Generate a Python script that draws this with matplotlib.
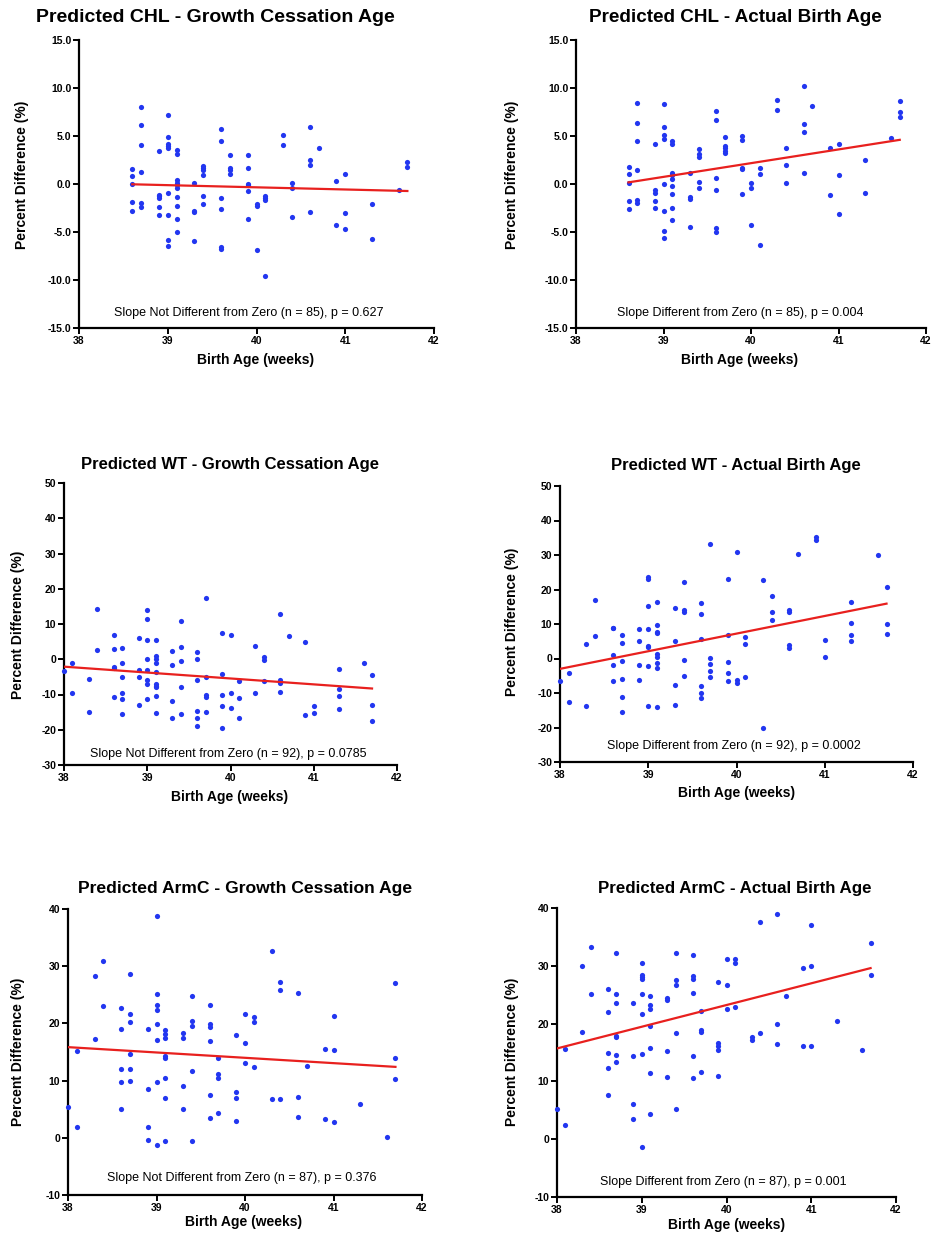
import numpy as np
import matplotlib
matplotlib.use("Agg")
import matplotlib.pyplot as plt
from matplotlib.ticker import FormatStrFormatter

plt.rcParams['font.family'] = ['Liberation Sans', 'DejaVu Sans']
plt.rcParams['axes.unicode_minus'] = False

# ---- data: birth-age columns and the values stacked in each ----
chl_gc_weeks = [38.6, 38.7, 38.9, 39.0, 39.1, 39.3, 39.4, 39.6, 39.7, 39.9, 40.0,
                40.1, 40.3, 40.4, 40.6, 40.7, 40.9, 41.0, 41.3, 41.6, 41.7]
chl_gc_vals = [[1.6, 0.8, 0.0, -1.9, -2.8], [8.0, 6.1, 4.1, 1.2, -2.0, -2.4],
               [3.4, -1.1, -1.3, -1.5, -2.4, -3.2],
               [7.2, 4.9, 4.2, 4.0, 3.8, -0.9, -3.2, -5.8, -6.5],
               [3.5, 3.1, 0.4, 0.1, -0.1, -0.4, -1.4, -2.3, -3.6, -5.0],
               [0.1, -2.8, -2.9, -5.9], [1.9, 1.7, 1.5, 0.9, -1.2, -2.1],
               [5.7, 4.5, -1.5, -2.6, -6.6, -6.8], [3.0, 1.7, 1.5, 1.0],
               [3.0, 1.7, 0.0, -0.1, -0.7, -3.6], [-2.1, -2.3, -6.9],
               [-1.3, -1.5, -1.7, -9.6], [5.1, 4.1], [0.1, -0.4, -3.4],
               [5.9, 2.5, 2.0, -2.9], [3.8], [0.3, -4.3], [1.0, -3.0, -4.7],
               [-2.1, -5.7], [-0.6], [2.3, 1.8]]
chl_gc_fit = [(38.6, 41.7), (-0.03, -0.73)]

chl_ab_weeks = chl_gc_weeks
chl_ab_vals = [[1.8, 1.0, 0.1, -1.8, -2.6], [8.4, 6.4, 4.5, 1.5, -1.7, -2.0],
               [4.2, -0.6, -0.9, -1.8, -2.5],
               [8.3, 5.9, 5.1, 4.7, 0.0, -2.8, -4.9, -5.6],
               [4.5, 4.2, 1.1, 0.9, 0.5, -0.2, -1.0, -2.5, -3.8],
               [1.1, -1.4, -1.6, -4.5], [3.6, 3.1, 2.8, 0.2, -0.4],
               [7.6, 6.7, 0.6, -0.6, -4.6, -5.0], [4.9, 4.0, 3.7, 3.4, 3.2],
               [5.0, 4.6, 1.7, 1.6, -1.0], [0.1, -0.4, -4.3], [1.7, 1.0, -6.4],
               [8.7, 7.7], [3.7, 2.0, 0.1], [10.2, 6.3, 5.4, 1.1], [8.1],
               [3.8, -1.1], [4.2, 0.9, -3.1], [2.5, -0.9], [4.8], [8.6, 7.5, 7.0]]
chl_ab_fit = [(38.6, 41.7), (0.17, 4.6)]

wt_weeks = [38.0, 38.1, 38.3, 38.4, 38.6, 38.7, 38.9, 39.0, 39.1, 39.3, 39.4, 39.6,
            39.7, 39.9, 40.0, 40.1, 40.3, 40.4, 40.6, 40.7, 40.9, 41.0, 41.3, 41.6, 41.7]
wt_gc_vals = [[-3.4], [-1.2, -9.7], [-5.7, -15.0], [14.3, 2.6],
              [6.9, 3.0, -2.3, -2.6, -10.7], [3.3, -1.1, -5.1, -9.6, -11.2, -15.4],
              [6.0, -3.1, -5.1, -13.0],
              [14.1, 11.5, 5.6, 0.1, -3.0, -5.8, -7.1, -11.3],
              [5.5, 1.0, 0.0, -1.2, -3.6, -7.1, -7.7, -8.0, -10.3, -15.2],
              [2.4, -1.5, -11.9, -16.7], [10.8, 3.4, -0.4, -7.8, -15.6],
              [2.0, 0.1, -5.9, -14.7, -16.6, -18.9], [17.4, -4.9, -10.2, -10.7, -14.9],
              [7.5, -4.3, -10.2, -13.4, -19.5], [7.0, -9.5, -13.7],
              [-6.1, -10.9, -16.8], [3.8, -9.6], [0.5, -0.1, -6.1],
              [12.9, -6.0, -6.6, -9.4], [6.7], [4.9, -15.8], [-13.2, -15.3],
              [-2.7, -8.4, -10.4, -14.0], [-1.0], [-4.4, -12.9, -17.4]]
wt_gc_fit = [(38.0, 41.7), (-2.1, -8.3)]

wt_ab_vals = [[-6.6], [-4.2, -12.6], [4.2, -13.9], [17.1, 6.5],
              [8.9, 8.7, 1.1, -2.0, -6.6], [6.9, 4.4, -0.7, -5.8, -11.2, -15.6],
              [8.6, 5.1, -1.9, -6.1],
              [23.5, 22.9, 15.3, 8.6, 3.5, 3.2, -2.2, -13.9],
              [16.3, 9.6, 7.6, 7.3, 1.4, 0.5, -1.3, -2.8, -14.2],
              [14.5, 5.0, -7.8, -13.4], [22.1, 14.1, 13.6, -0.5, -5.2],
              [16.1, 12.9, 5.7, -7.9, -9.9, -11.4], [33.1, 0.1, -1.6, -3.5, -5.4],
              [22.9, 6.9, -1.1, -4.3, -6.6], [30.8, -6.1, -7.0], [6.1, 4.2, -5.4],
              [22.8, -20.2], [18.1, 13.4, 11.2], [14.0, 13.6, 3.9, 2.9], [30.4],
              [35.3, 34.4], [5.5, 0.4], [16.3, 10.4, 6.7, 5.1], [29.9],
              [20.6, 9.9, 7.2]]
wt_ab_fit = [(38.0, 41.7), (-3.0, 15.9)]

armc_weeks = wt_weeks
armc_gc_vals = [[5.3], [15.2, 1.9], [28.2, 17.2], [30.9, 23.0],
                [22.7, 19.0, 12.1, 9.7, 5.1], [28.6, 21.6, 20.2, 14.7, 12.1, 10.0],
                [19.0, 8.5, 1.9, -0.4],
                [38.8, 25.2, 23.3, 22.4, 19.9, 17.1, 9.8, -1.3],
                [18.9, 18.1, 17.5, 14.3, 14.0, 10.5, 7.0, -0.5],
                [18.3, 17.5, 9.1, 5.0], [24.8, 20.5, 19.6, 11.7, -0.5],
                [23.2, 19.9, 19.3, 16.9, 7.5, 3.4], [13.9, 11.2, 10.5, 4.3],
                [18.0, 8.0, 6.9, 3.0], [21.7, 16.5, 13.1], [21.1, 20.2, 12.4],
                [32.6, 6.8], [27.2, 25.9, 6.8], [25.3, 7.1, 3.6], [12.6],
                [15.6, 3.3], [21.3, 15.4, 2.8], [5.9], [0.1], [27.1, 14.0, 10.3]]
armc_gc_fit = [(38.0, 41.7), (15.85, 12.4)]

armc_ab_vals = [[5.3], [15.6, 2.4], [29.9, 18.6], [33.3, 25.1],
                [25.9, 22.0, 14.9, 12.4, 7.7],
                [32.3, 25.2, 23.6, 17.9, 17.7, 14.5, 13.4], [23.6, 14.4, 6.1, 3.5],
                [30.4, 28.4, 28.0, 27.7, 25.2, 21.6, 14.7, -1.3],
                [24.7, 23.3, 22.6, 19.5, 15.7, 11.4, 4.3],
                [24.5, 24.1, 15.3, 10.8], [32.3, 27.5, 26.7, 18.3, 5.3],
                [31.8, 28.3, 27.7, 25.3, 14.4, 10.6], [22.2, 18.9, 18.5, 11.6],
                [27.2, 16.7, 16.1, 15.4, 10.9], [31.2, 26.6, 22.5], [31.1, 30.4, 22.9],
                [17.7, 17.2], [37.5, 18.4], [38.9, 20.0, 16.4], [24.7],
                [29.7, 16.1], [37.1, 29.9, 16.2], [20.4], [15.5], [33.9, 28.4]]
armc_ab_fit = [(38.0, 41.7), (15.7, 29.6)]

titles = ["Predicted CHL - Growth Cessation Age", "Predicted CHL - Actual Birth Age",
          "Predicted WT - Growth Cessation Age", "Predicted WT - Actual Birth Age",
          "Predicted ArmC - Growth Cessation Age", "Predicted ArmC - Actual Birth Age"]
notes = ["Slope Not Different from Zero (n = 85), p = 0.627",
         "Slope Different from Zero (n = 85), p = 0.004",
         "Slope Not Different from Zero (n = 92), p = 0.0785",
         "Slope Different from Zero (n = 92), p = 0.0002",
         "Slope Not Different from Zero (n = 87), p = 0.376",
         "Slope Different from Zero (n = 87), p = 0.001"]
x_ticks = [38, 39, 40, 41, 42]
y_ticks_chl = [-15, -10, -5, 0, 5, 10, 15]
y_ticks_wt = [-30, -20, -10, 0, 10, 20, 30, 40, 50]
y_ticks_armc = [-10, 0, 10, 20, 30, 40]

panels = [(chl_gc_weeks, chl_gc_vals, chl_gc_fit, y_ticks_chl),
          (chl_ab_weeks, chl_ab_vals, chl_ab_fit, y_ticks_chl),
          (wt_weeks, wt_gc_vals, wt_gc_fit, y_ticks_wt),
          (wt_weeks, wt_ab_vals, wt_ab_fit, y_ticks_wt),
          (armc_weeks, armc_gc_vals, armc_gc_fit, y_ticks_armc),
          (armc_weeks, armc_ab_vals, armc_ab_fit, y_ticks_armc)]

# ---- layout in pixels (left, right, top, bottom of axes) ----
W, H = 933, 1239
boxes = [(79, 434, 40, 328), (576, 926, 40, 328),
         (64, 397, 483, 765), (560, 913, 486, 762),
         (68, 422, 909, 1195), (557, 896, 908, 1197)]
title_pos = [(215, 18, 14), (735, 18, 13.6), (230, 465, 12), (736, 466, 12),
             (245, 888, 12.6), (735, 888, 12.2)]
note_pos = [(249, 313), (740, 313), (228, 754), (734, 746), (242, 1178), (723, 1182)]
ylab_pos = [(22, 175), (512, 175), (18, 625), (512, 622), (18, 1052), (512, 1052)]
xlab_pos = [(256, 360), (740, 360), (230, 797), (737, 793), (244, 1222), (727, 1225)]

fig = plt.figure(figsize=(W / 100, H / 100), dpi=100)

def fx(x):
    return x / W

def fy(y):
    return 1 - y / H

for i, (weeks, vals, fit, yt) in enumerate(panels):
    l, r, t, b = boxes[i]
    ax = fig.add_axes([fx(l), fy(b), fx(r - l), (b - t) / H])
    xs = np.concatenate([[w] * len(v) for w, v in zip(weeks, vals)])
    ys = np.concatenate(vals)
    ax.scatter(xs, ys, s=14, color='#2236f0', linewidths=0, zorder=3, clip_on=False)
    ax.plot(fit[0], fit[1], color='#e8201e', lw=1.6, zorder=4)
    ax.set_xlim(38, 42)
    ax.set_ylim(yt[0], yt[-1])
    ax.set_xticks(x_ticks)
    ax.set_yticks(yt)
    if i < 2:
        ax.yaxis.set_major_formatter(FormatStrFormatter('%.1f'))
    for s in ['top', 'right']:
        ax.spines[s].set_visible(False)
    for s in ['left', 'bottom']:
        ax.spines[s].set_linewidth(1.6)
    ax.tick_params(direction='out', length=4, width=1.4, labelsize=7.5, pad=1.5)
    for lab in ax.get_xticklabels() + ax.get_yticklabels():
        lab.set_fontweight('bold')

    tx, ty, tsz = title_pos[i]
    fig.text(fx(tx), fy(ty), titles[i], ha='center', va='center',
             fontsize=tsz, fontweight='bold')
    nx, ny = note_pos[i]
    fig.text(fx(nx), fy(ny), notes[i], ha='center', va='center', fontsize=9)
    yx, yy = ylab_pos[i]
    fig.text(fx(yx), fy(yy), "Percent Difference (%)", ha='center', va='center',
             rotation=90, fontsize=10, fontweight='bold')
    xx, xy = xlab_pos[i]
    fig.text(fx(xx), fy(xy), "Birth Age (weeks)", ha='center', va='center',
             fontsize=10, fontweight='bold')

fig.savefig("out.png", dpi=100)
